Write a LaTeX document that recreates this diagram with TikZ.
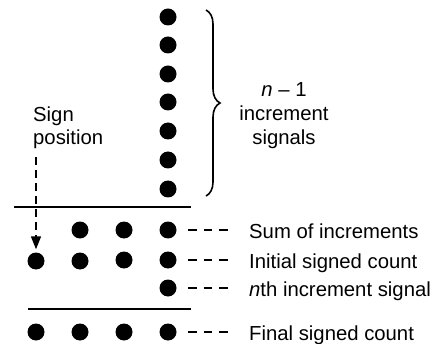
\documentclass[tikz,border=0pt]{standalone}
\usepackage{fontspec}
\setmainfont{Liberation Sans}
\usetikzlibrary{arrows.meta,decorations.pathreplacing}
\begin{document}
\begin{tikzpicture}[x=1pt,y=-1pt,
  dot/.style={circle,fill=black,inner sep=0pt,minimum size=17pt},
  lbl/.style={inner sep=0pt,anchor=base west,font=\fontsize{20.3}{23.5}\selectfont},
  dashconn/.style={line width=1.6pt,dash pattern=on 8.5pt off 7pt,shorten <=11.5pt,shorten >=21pt},
  rule/.style={line width=1.8pt},
  every node/.append style={font=\fontsize{20.3}{23.5}\selectfont}]
\useasboundingbox (0,0) rectangle (435,344);
% top column
\foreach \i/\y in {1/17,2/45,3/74,4/102,5/131,6/160,7/189}
  \node[dot] (t\i) at (168,\y) {};
\draw[line width=1.6pt,decorate,decoration={brace,amplitude=14pt,aspect=0.5}]
  (206,10) -- (206,196);
\node[align=center,inner sep=0pt] (inc) at (284,115.5)
  {\textit{n} – 1\\[0.3pt]increment\\[0.3pt]signals};
% sign position
\node[align=left,inner sep=0pt,anchor=north west] (sign) at (33,106.5) {Sign\\position};
% rules
\draw[rule] (14,207) -- (191,207);
\draw[rule] (28,309) -- (191,309);
% rows
\node[dot] (a2) at (80,230) {};
\node[dot] (a3) at (124,230) {};
\node[dot] (a4) at (168,230) {};
\node[dot] (b1) at (36,261) {};
\node[dot] (b2) at (80,261) {};
\node[dot] (b3) at (124,260) {};
\node[dot] (b4) at (168,260) {};
\node[dot] (c4) at (168,288) {};
\node[dot] (d1) at (36,332) {};
\node[dot] (d2) at (80,332) {};
\node[dot] (d3) at (124,332) {};
\node[dot] (d4) at (168,332) {};
% labels
\node[lbl] (la) at (249,238.5) {Sum of increments};
\node[lbl] (lb) at (249,268.5) {Initial signed count};
\node[lbl] (lc) at (249,296.5) {\textit{n}th increment signal};
\node[lbl] (ld) at (249,340.5) {Final signed count};
\draw[dashconn] (a4.east) -- (a4.east -| la.west);
\draw[dashconn] (b4.east) -- (b4.east -| lb.west);
\draw[dashconn] (c4.east) -- (c4.east -| lc.west);
\draw[dashconn] (d4.east) -- (d4.east -| ld.west);
% sign arrow
\draw[line width=1.6pt,dash pattern=on 8pt off 5pt,
  -{Triangle[length=13pt,width=10pt]},shorten <=8pt,shorten >=3pt]
  (b1.north |- sign.south) -- (b1.north);
\end{tikzpicture}
\end{document}
